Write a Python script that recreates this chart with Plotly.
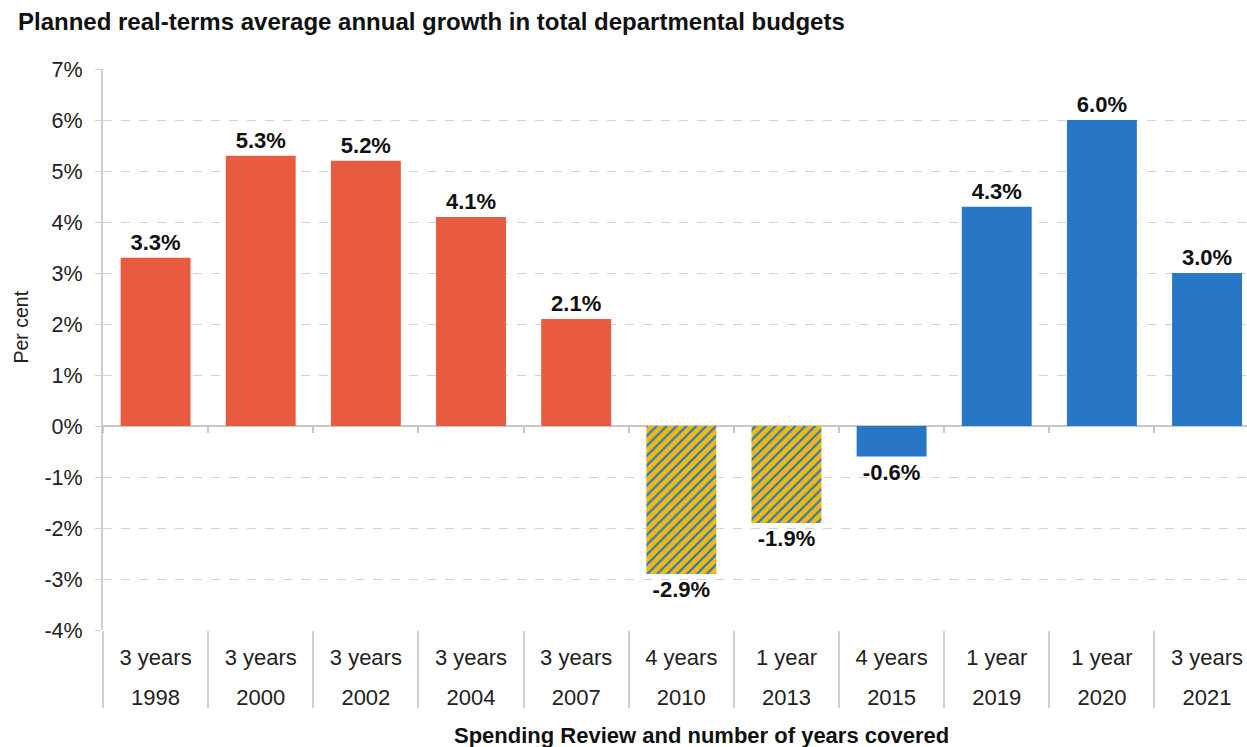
import plotly.graph_objects as go

years = ["1998", "2000", "2002", "2004", "2007", "2010", "2013", "2015", "2019", "2020", "2021"]
durations = ["3 years", "3 years", "3 years", "3 years", "3 years", "4 years", "1 year", "4 years", "1 year", "1 year", "3 years"]
values = [3.3, 5.3, 5.2, 4.1, 2.1, -2.9, -1.9, -0.6, 4.3, 6.0, 3.0]
groups = ["red", "red", "red", "red", "red", "hatch", "hatch", "blue", "blue", "blue", "blue"]
y_ticks = [-4, -3, -2, -1, 0, 1, 2, 3, 4, 5, 6, 7]

RED = "#E95B40"
BLUE = "#2777C6"
YELLOW = "#F2B90F"
FONT = "Liberation Sans, Arial, sans-serif"
GRID = "#d3d3d3"

fig = go.Figure()

for g in ["red", "hatch", "blue"]:
    idx = [i for i, gg in enumerate(groups) if gg == g]
    xs = [years[i] for i in idx]
    ys = [values[i] for i in idx]
    txt = [f"{values[i]:.1f}%" for i in idx]
    if g == "hatch":
        marker = dict(color=YELLOW, line=dict(width=0),
                      pattern=dict(shape="/", fgcolor=BLUE, bgcolor=YELLOW,
                                   size=7, solidity=0.3, fillmode="replace"))
    else:
        marker = dict(color=RED if g == "red" else BLUE, line=dict(width=0))
    fig.add_trace(go.Bar(
        x=xs, y=ys, text=txt, textposition="outside", cliponaxis=False,
        textfont=dict(family=FONT, size=22, color="#111111", weight="bold"),
        marker=marker, width=0.665, showlegend=False,
    ))

fig.update_layout(
    width=1247, height=747,
    margin=dict(l=103, r=0, t=69, b=117),
    plot_bgcolor="white", paper_bgcolor="white",
    barmode="overlay",
    font=dict(family=FONT, size=22, color="#222222"),
    title=dict(text="<b>Planned real-terms average annual growth in total departmental budgets</b>",
               x=0.0144, xanchor="left", y=0.9705, yanchor="middle",
               font=dict(family=FONT, size=24, color="#111111")),
)

fig.update_yaxes(
    range=[-4, 7], tickvals=y_ticks, ticktext=[f"{v}%" for v in y_ticks],
    automargin=False,
    showgrid=True, gridcolor=GRID, griddash="dash", gridwidth=1,
    zeroline=True, zerolinecolor="#c8c8c8", zerolinewidth=1.5,
    showline=True, linecolor="#cfcfcf", linewidth=2,
    ticks="outside", ticklen=6, tickcolor=GRID, ticklabelstandoff=8,
    tickfont=dict(family=FONT, size=21.5, color="#222222"),
)

XR = [-0.5, 10.38]
fig.update_layout(
    xaxis=dict(
        type="category", categoryorder="array", categoryarray=years,
        range=XR, automargin=False, showline=False, showgrid=False,
        ticks="outside", tickson="boundaries", ticklen=77, tickwidth=2,
        tickcolor="#d0d0d0", showticklabels=False,
    ),
    xaxis2=dict(
        matches="x", overlaying="x", anchor="y", side="bottom",
        automargin=False, showline=False, showgrid=False, ticks="",
        tickvals=years, ticktext=durations, ticklabelstandoff=12,
        tickfont=dict(family=FONT, size=22, color="#222222"),
    ),
    xaxis3=dict(
        matches="x", overlaying="x", anchor="y", side="bottom",
        automargin=False, showline=False, showgrid=False, ticks="",
        tickvals=years, ticktext=years, ticklabelstandoff=52,
        tickfont=dict(family=FONT, size=22, color="#222222"),
    ),
    xaxis4=dict(
        matches="x", overlaying="x", anchor="free", position=4 / 11,
        automargin=False, showline=False, showgrid=False,
        ticks="outside", tickson="boundaries", ticklen=6, tickwidth=1.5,
        tickcolor="#c8c8c8", showticklabels=False,
    ),
)

for ax in ["x2", "x3", "x4"]:
    fig.add_trace(go.Scatter(x=years, y=[None] * len(years), xaxis=ax, yaxis="y",
                             mode="markers", showlegend=False, hoverinfo="skip"))

fig.add_annotation(
    text="Per cent", textangle=-90,
    xref="paper", yref="paper", x=0, xshift=-83, y=0.5, yshift=22,
    xanchor="center", yanchor="middle", showarrow=False,
    font=dict(family=FONT, size=19.5, color="#222222"),
)

fig.add_annotation(
    text="<b>Spending Review and number of years covered</b>",
    xref="paper", yref="paper", x=0.5236, y=0, yshift=-105,
    xanchor="center", yanchor="middle", showarrow=False,
    font=dict(family=FONT, size=22, color="#111111"),
)

fig.write_html(
    "out.html",
    config={"displayModeBar": False},
    post_script="document.body.style.margin='0';document.body.style.overflow='hidden';",
)
